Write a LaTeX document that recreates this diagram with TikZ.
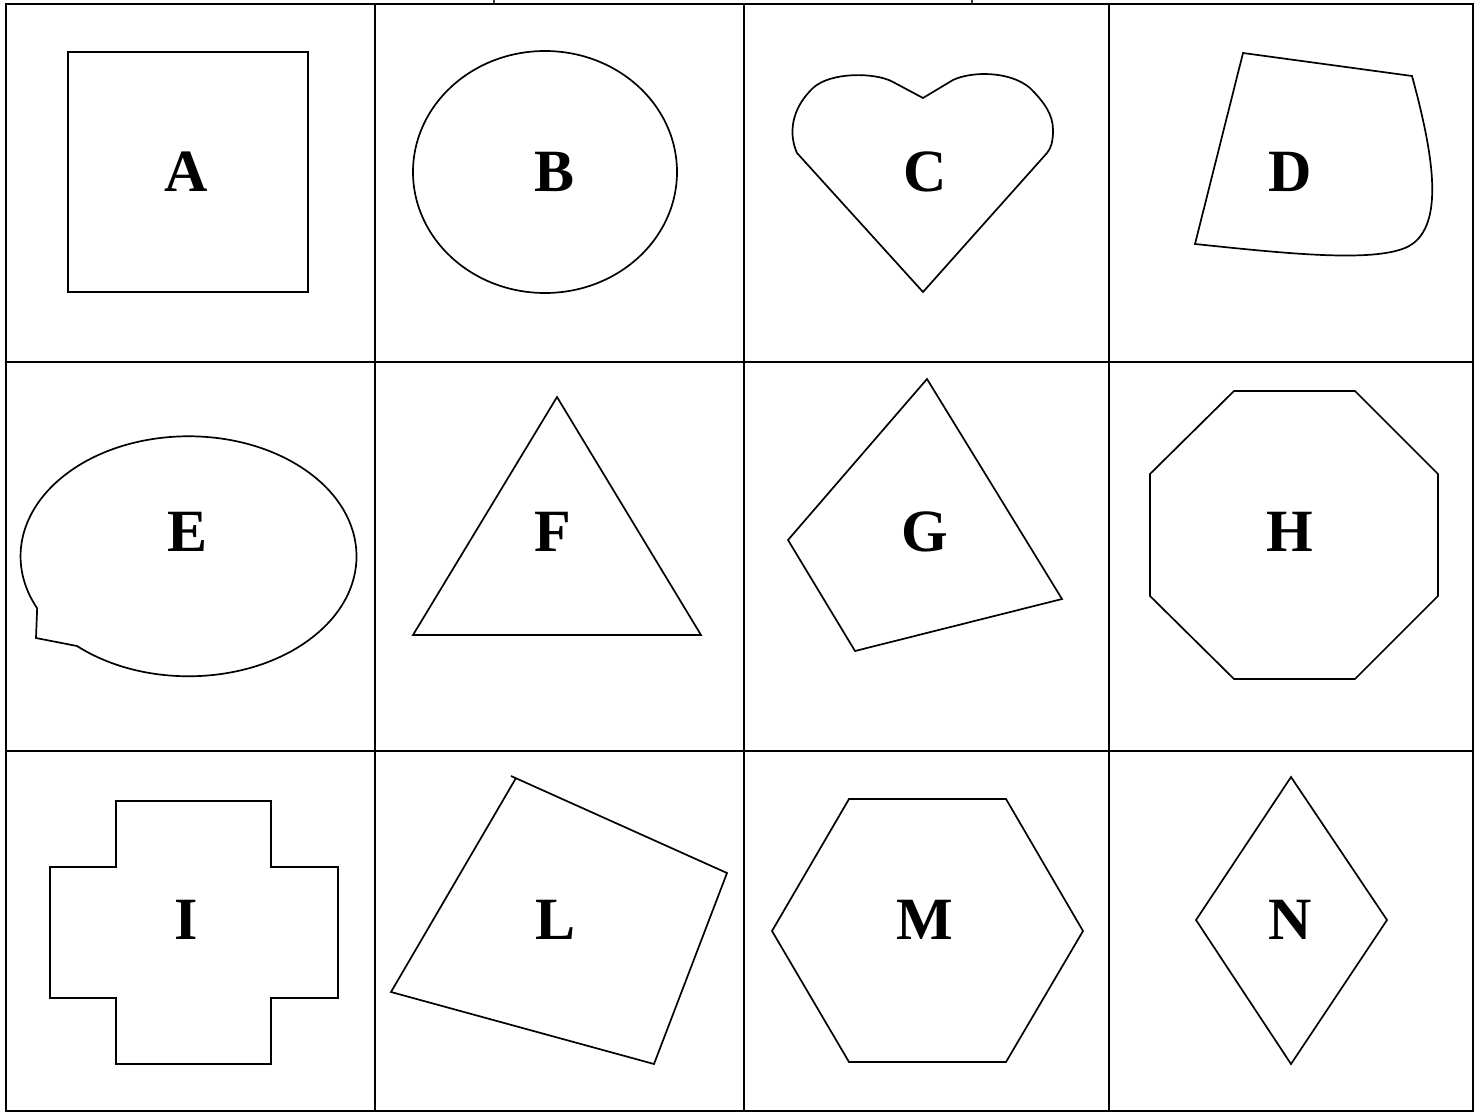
\documentclass[tikz,border=0pt]{standalone}
\usepackage{fontspec}
\setmainfont{Liberation Serif}
\usetikzlibrary{positioning}

\begin{document}
\begin{tikzpicture}[x=1pt, y=-1pt,
    gridLine/.style={line width=2.3pt},
    shapeLine/.style={line width=1.7pt, line join=miter},
    letterLabel/.style={font=\fontsize{60}{72}\selectfont\bfseries, inner sep=0pt}]
        \useasboundingbox (0,0) rectangle (1482,1113);
        % partly hidden box above the table
        \draw[line width=1.4pt, black!75] (494,-10) rectangle (972,4);
        % table
        \draw[gridLine] (6,4) rectangle (1473,1111);
        \draw[gridLine] (375,4) -- (375,1111);
        \draw[gridLine] (744,4) -- (744,1111);
        \draw[gridLine] (1109,4) -- (1109,1111);
        \draw[gridLine] (6,362) -- (1473,362);
        \draw[gridLine] (6,751) -- (1473,751);
        % row 1
        \draw[shapeLine] (68,52) rectangle (308,292);
        \node[letterLabel] (labelA) at (186,172) {A};
        \draw[shapeLine] (545,172) ellipse [x radius=132, y radius=121];
        \node[letterLabel] (labelB) at (555,172) {B};
        \draw[shapeLine] (923,292) -- (797,153) .. controls (789,135) and (790,110) .. (813,88)
            .. controls (830,72) and (875,72) .. (893,82) -- (923,98) -- (953,80)
            .. controls (972,71) and (1010,71) .. (1030,88)
            .. controls (1045,103) and (1053,115) .. (1053,130)
            .. controls (1053,142) and (1051,148) .. (1047,153) -- cycle;
        \node[letterLabel] (labelC) at (925,172) {C};
        \draw[shapeLine] (1195,244) -- (1243,53) -- (1412,76)
            .. controls (1432,150) and (1448,230) .. (1405,248)
            .. controls (1370,262) and (1290,254) .. (1195,244) -- cycle;
        \node[letterLabel] (labelD) at (1290,172) {D};
        % row 2
        \draw[shapeLine] (77,646) arc [start angle=228.4, end angle=565.7, x radius=168pt, y radius=120pt]
            -- (36,638) -- cycle;
        \node[letterLabel] (labelE) at (188,532) {E};
        \draw[shapeLine] (413,635) -- (701,635) -- (557,397) -- cycle;
        \node[letterLabel] (labelF) at (553,532) {F};
        \draw[shapeLine] (927,379) -- (1062,599) -- (855,651) -- (788,540) -- cycle;
        \node[letterLabel] (labelG) at (925,532) {G};
        \draw[shapeLine] (1234,391) -- (1355,391) -- (1438,474) -- (1438,596) -- (1355,679)
            -- (1234,679) -- (1150,596) -- (1150,474) -- cycle;
        \node[letterLabel] (labelH) at (1290,532) {H};
        % row 3
        \draw[shapeLine] (116,801) -- (271,801) -- (271,867) -- (338,867) -- (338,998) -- (271,998)
            -- (271,1064) -- (116,1064) -- (116,998) -- (50,998) -- (50,867) -- (116,867) -- cycle;
        \node[letterLabel] (labelI) at (186,920) {I};
        \draw[shapeLine] (511,776) -- (727,873) -- (654,1064) -- (391,992) -- (516,778);
        \node[letterLabel] (labelL) at (556,920) {L};
        \draw[shapeLine] (849,799) -- (1006,799) -- (1083,931) -- (1006,1062) -- (849,1062)
            -- (772,931) -- cycle;
        \node[letterLabel] (labelM) at (925,920) {M};
        \draw[shapeLine] (1291,777) -- (1387,920) -- (1291,1064) -- (1196,920) -- cycle;
        \node[letterLabel] (labelN) at (1290,920) {N};
      \end{tikzpicture}
\end{document}
